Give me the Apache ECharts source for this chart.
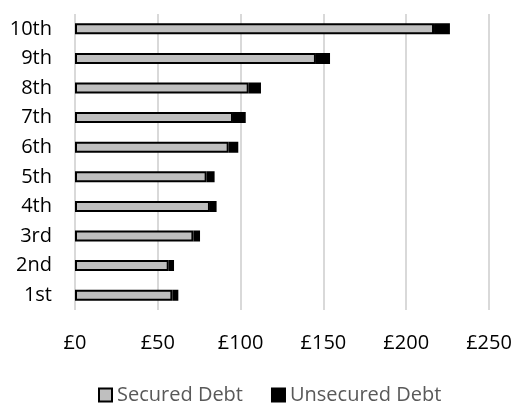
<!DOCTYPE html>
<html>
<head>
<meta charset="utf-8">
<script src="https://cdn.jsdelivr.net/npm/echarts@6/dist/echarts.min.js"></script>
<style>
  html, body { margin: 0; padding: 0; background: #fff; }
  #chart { width: 517px; height: 403px; }
</style>
</head>
<body>
<div id="chart"></div>
<script>
// Debt by decile (£)
const deciles = ['1st', '2nd', '3rd', '4th', '5th', '6th', '7th', '8th', '9th', '10th'];
const securedDebt = [58.8, 56.6, 71.5, 81.5, 79.5, 92.8, 95.4, 104.9, 145.5, 216.8];
const unsecuredDebt = [3.6, 3.2, 4.0, 4.0, 4.8, 5.8, 7.7, 7.4, 8.5, 9.6];
const seriesNames = ['Secured Debt', 'Unsecured Debt'];

const FONT = '"Open Sans", "Noto Sans", sans-serif';

const chart = echarts.init(document.getElementById('chart'), null, { renderer: 'canvas' });

chart.setOption({
  animation: false,
  textStyle: { fontFamily: FONT },
  grid: { left: 75, right: 28, top: 14, bottom: 93, containLabel: false },
  xAxis: {
    type: 'value',
    min: 0,
    max: 250,
    interval: 50,
    axisLine: { show: false },
    axisTick: { show: false },
    splitLine: { show: true, lineStyle: { color: '#d9d9d9', width: 2 } },
    axisLabel: {
      margin: 23,
      fontSize: 20,
      color: '#000',
      fontFamily: FONT,
      formatter: v => '£' + v
    }
  },
  yAxis: {
    type: 'category',
    data: deciles,
    axisLine: { show: false },
    axisTick: { show: false },
    axisLabel: { margin: 23, fontSize: 20, color: '#000', fontFamily: FONT }
  },
  legend: {
    data: seriesNames,
    left: 93,
    top: 380,
    icon: 'rect',
    itemWidth: 13,
    itemHeight: 13,
    itemGap: 28,
    itemStyle: { borderColor: '#000', borderWidth: 2 },
    textStyle: { fontSize: 20, color: '#595959', fontFamily: FONT }
  },
  series: [
    {
      name: seriesNames[0],
      type: 'bar',
      stack: 'debt',
      data: securedDebt,
      barWidth: 11,
      itemStyle: { color: '#bfbfbf', borderColor: '#000', borderWidth: 2 }
    },
    {
      name: seriesNames[1],
      type: 'bar',
      stack: 'debt',
      data: unsecuredDebt,
      barWidth: 11,
      itemStyle: { color: '#000', borderColor: '#000', borderWidth: 2 }
    }
  ]
});
</script>
</body>
</html>
